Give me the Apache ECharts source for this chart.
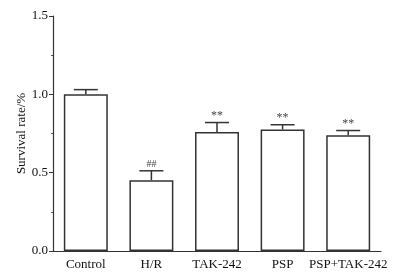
<!DOCTYPE html>
<html>
<head>
<meta charset="utf-8">
<script src="https://cdn.jsdelivr.net/npm/echarts@6/dist/echarts.min.js"></script>
<style>
html,body{margin:0;padding:0;background:#fff;}
#chart{width:397px;height:278px;}
</style>
</head>
<body>
<div id="chart"></div>
<script>
var groups = ['Control', 'H/R', 'TAK-242', 'PSP', 'PSP+TAK-242'];
var survival = [1.0, 0.452, 0.76, 0.776, 0.739];
var errUp = [0.03, 0.06, 0.06, 0.03, 0.03];
var marks = ['', '##', '**', '**', '**'];

var chart = echarts.init(document.getElementById('chart'));

var errData = groups.map(function (g, i) {
    return [i, survival[i], survival[i] + errUp[i], marks[i]];
});

var option = {
    animation: false,
    textStyle: { fontFamily: 'Liberation Serif' },
    grid: { left: 53, right: 16, top: 16, bottom: 27, outerBoundsMode: 'none' },
    xAxis: {
        type: 'category',
        data: groups,
        axisLine: { lineStyle: { color: '#333', width: 1.2 } },
        axisTick: { show: false },
        axisLabel: { interval: 0, color: '#111', fontSize: 13, fontFamily: 'Liberation Serif', margin: 7 }
    },
    yAxis: {
        type: 'value',
        min: 0,
        max: 1.5,
        interval: 0.5,
        name: 'Survival rate/%',
        nameLocation: 'middle',
        nameGap: 25,
        nameMoveOverlap: false,
        nameTextStyle: { color: '#111', fontSize: 13, fontFamily: 'Liberation Serif' },
        axisLine: { show: true, lineStyle: { color: '#333', width: 1.2 } },
        axisTick: { show: true, length: 4, lineStyle: { color: '#333' } },
        minorTick: { show: true, splitNumber: 2, length: 2, lineStyle: { color: '#555' } },
        splitLine: { show: false },
        axisLabel: {
            color: '#111', fontSize: 13, fontFamily: 'Liberation Serif', margin: 5,
            formatter: function (v) { return v.toFixed(1); }
        }
    },
    series: [
        {
            type: 'bar',
            data: survival,
            barWidth: '67%',
            itemStyle: { color: '#fff', borderColor: '#333', borderWidth: 1.5 }
        },
        {
            type: 'custom',
            data: errData,
            z: 3,
            renderItem: function (params, api) {
                var x = api.value(0);
                var base = api.coord([x, api.value(1)]);
                var top = api.coord([x, api.value(2)]);
                var half = 12;
                var children = [
                    { type: 'line', shape: { x1: base[0], y1: base[1], x2: top[0], y2: top[1] },
                      style: { stroke: '#333', lineWidth: 1.5 } },
                    { type: 'line', shape: { x1: top[0] - half, y1: top[1], x2: top[0] + half, y2: top[1] },
                      style: { stroke: '#333', lineWidth: 1.5 } }
                ];
                var m = errData[params.dataIndex][3];
                if (m) {
                    children.push({
                        type: 'text',
                        style: {
                            text: m, x: top[0], y: top[1] - 1,
                            align: 'center', verticalAlign: 'bottom',
                            fontSize: m === '**' ? 12 : 10, fontFamily: 'Liberation Serif', fill: '#444'
                        }
                    });
                }
                return { type: 'group', children: children };
            }
        }
    ]
};
chart.setOption(option);
</script>
</body>
</html>
